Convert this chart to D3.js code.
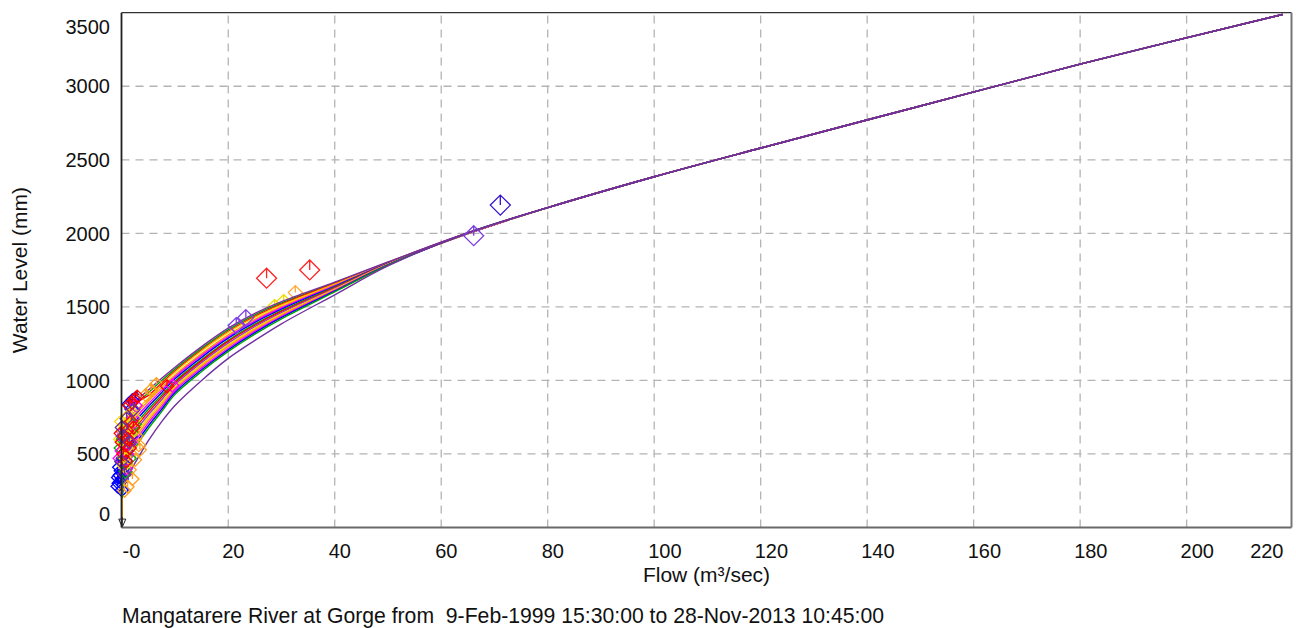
<!DOCTYPE html>
<html><head><meta charset="utf-8">
<script src="https://cdn.jsdelivr.net/npm/d3@7"></script>
<style>
html,body{margin:0;padding:0;background:#fff;}
svg text{font-family:"Liberation Sans",Arial,Helvetica,sans-serif;fill:#111;}
</style></head>
<body><svg id="c" width="1296" height="628"></svg>
<script>
// ---------- data ----------
const xTicks = [0, 20, 40, 60, 80, 100, 120, 140, 160, 180, 200, 220];
const xTickLabels = ["-0", "20", "40", "60", "80", "100", "120", "140", "160", "180", "200", "220"];
const yTicks = [0, 500, 1000, 1500, 2000, 2500, 3000, 3500];
const yTickLabels = ["0", "500", "1000", "1500", "2000", "2500", "3000", "3500"];
const xTitle = "Flow (m³/sec)";
const yTitle = "Water Level (mm)";
const caption = "Mangatarere River at Gorge from  9-Feb-1999 15:30:00 to 28-Nov-2013 10:45:00";

// rating curves: flows (m3/sec) at which each curve's level (mm) was read
const curveQ = [0, 0.5, 1.5, 3, 5, 7.5, 10, 15, 20, 25, 30, 40, 50, 65];
const tailQ = [80, 100, 120, 150, 180, 218];
const tailH = [2175, 2385, 2580, 2866, 3150, 3488];
const curveColors = ["#00a000", "#ff0000", "#ffd000", "#ff9900", "#ff00ff", "#0000ff", "#00a000", "#ff0000",
  "#9933cc", "#ffd000", "#ff9900", "#ff00ff", "#0000ff", "#00a000", "#7030a0", "#7b2d9e"];
const k1  = [null, 658, 782, 848, 916, 999, 1077, 1218, 1344, 1445, 1527, 1663, 1803, 2003];
const k2  = [null, null, 845, 860, 898, 983, 1064, 1206, 1332, 1435, 1518, 1659, 1802, 2002];
const k3  = [null, 614, 735, 805, 879, 970, 1056, 1200, 1326, 1428, 1512, 1654, 1800, 2001];
const k4  = [480, 592, 711, 784, 860, 950, 1037, 1182, 1310, 1415, 1502, 1649, 1799, 2000];
const k5  = [460, 570, 688, 762, 841, 934, 1024, 1170, 1298, 1405, 1494, 1644, 1797, 1999];
const k6  = [440, 548, 665, 741, 823, 918, 1011, 1157, 1287, 1395, 1485, 1640, 1796, 1998];
const k7  = [420, 526, 641, 719, 804, 900, 994, 1141, 1272, 1382, 1475, 1635, 1794, 1998];
const k8  = [400, 504, 618, 698, 785, 885, 984, 1133, 1265, 1375, 1469, 1630, 1793, 1998];
const k9  = [380, 482, 594, 676, 767, 869, 971, 1121, 1253, 1365, 1461, 1626, 1791, 1999];
const k10 = [360, 460, 571, 655, 748, 853, 958, 1109, 1242, 1355, 1452, 1621, 1790, 1999];
const k11 = [340, 438, 548, 633, 729, 837, 945, 1097, 1231, 1345, 1444, 1616, 1788, 2000];
const k12 = [320, 416, 524, 612, 711, 821, 932, 1085, 1219, 1335, 1436, 1612, 1787, 2001];
const k13 = [300, 394, 501, 590, 692, 804, 918, 1073, 1208, 1325, 1428, 1607, 1785, 2002];
const k14 = [280, 372, 477, 569, 673, 788, 905, 1061, 1197, 1315, 1419, 1602, 1784, 2003];
const kB  = [200, 280, 375, 470, 590, 720, 830, 1000, 1150, 1272, 1385, 1582, 1778, 2004];
const kT  = [null, 680, 805, 870, 935, 1015, 1090, 1230, 1355, 1455, 1535, 1668, 1805, 2004];
const curves = [k1, k2, k3, k4, k5, k6, k7, k8, k9, k10, k11, k12, k13, k14, kB, kT];

// vertical stem at zero flow (level mm)
const stemQ = [0, 0];
const stemH = [350, 30];

// gaugings: [flow, level]
const bigGaugings = [
  {color: "#7a3fe0", size: 10, pts: [[66.1, 1984]]},
  {color: "#3311cc", size: 10, pts: [[71.1, 2192]]},
  {color: "#ff2222", size: 10, pts: [[27.2, 1695], [35.3, 1751]]},
  {color: "#7b3fe4", size: 8, pts: [[23.3, 1427], [21.5, 1373]]}
];
const hiddenGaugings = [
  {color: "#eedd00", size: 7, pts: [[28.7, 1502], [30.4, 1536]]},
  {color: "#ffaa33", size: 7, pts: [[32.6, 1597]]}
];
const blueG    = [[-0.8,280],[-0.6,300],[-0.3,310],[0,330],[-0.7,340],[-0.4,355],[0.1,370],[-0.2,385],[0.3,400],[-0.5,410],[0.5,430],[0.0,445],[0.7,455],[0.2,470],[1.0,490],[0.5,510],[1.4,540],[1.0,580],[1.7,620],[1.3,840],[2.0,865],[2.6,880],[1.8,805],[0.0,255]];
const redG     = [[0.0,580],[0.5,620],[1.0,660],[0.3,500],[1.5,540],[1.9,850],[2.4,870],[0.8,450],[1.8,720],[-0.2,640],[8.5,960],[1.4,830],[2.9,890],[0.6,560],[1.2,600],[2.2,680]];
const yellowG  = [[0.2,660],[0.7,700],[1.2,760],[-0.3,600],[0.9,540],[1.6,640],[0.4,420],[2.0,780],[-0.1,720],[1.0,620],[2.5,740],[0.5,480],[1.4,700]];
const magentaG = [[0.0,520],[0.6,600],[1.3,680],[-0.4,470],[1.0,500],[2.0,740],[9.5,965],[0.3,650],[1.6,580],[2.6,830],[0.8,400]];
const greenG   = [[0.4,480],[1.1,560],[-0.2,540],[0.7,380],[1.8,650],[2.4,700],[0.2,600],[1.5,470],[0.9,690]];
const orangeG  = [[3.4,528],[1.5,392],[1.1,277],[2.5,460],[0.5,250],[6.5,975],[4.5,900],[2.8,620],[3.2,560],[2.0,330],[0.2,520],[5.5,935],[1.2,710]];
const purpleG  = [[0.2,620],[0.9,740],[-0.1,450],[1.4,580],[0.5,360],[2.2,800],[0.0,680]];
const clusterSets = [
  {color: "#0000ff", pts: blueG}, {color: "#ff9f1c", pts: orangeG}, {color: "#00b000", pts: greenG},
  {color: "#ff00ff", pts: magentaG}, {color: "#ffd700", pts: yellowG}, {color: "#ff0000", pts: redG},
  {color: "#7030a0", pts: purpleG}
];

// ---------- drawing ----------
const svg = d3.select("#c");
const L = 121.5, R = 1291.5, T = 12.7, B = 527.5;
const x = d3.scaleLinear().domain([-0.05, 219.7]).range([L, R]);
const y = d3.scaleLinear().domain([0, 3500]).range([B, T]);

// grid
const grid = svg.append("g").attr("stroke", "#b4b4b4").attr("stroke-width", 1.3).attr("stroke-dasharray", "8,6");
grid.selectAll("line.v").data(xTicks.filter(v => v > 0 && v < 210)).join("line")
  .attr("x1", d => x(d)).attr("x2", d => x(d)).attr("y1", B).attr("y2", T);
grid.selectAll("line.h").data(yTicks.filter(v => v > 0 && v < 3500)).join("line")
  .attr("x1", L).attr("x2", R).attr("y1", d => y(d)).attr("y2", d => y(d));

// diamond marker path (center + tick to top)
function diamond(cx, cy, s) {
  return `M${cx},${cy - s}L${cx + s},${cy}L${cx},${cy + s}L${cx - s},${cy}Z M${cx},${cy}L${cx},${cy - s}`;
}
function drawG(sets, size) {
  const g = svg.append("g").attr("fill", "none").attr("stroke-width", 1.3);
  sets.forEach(set => {
    g.selectAll(null).data(set.pts).join("path")
      .attr("stroke", set.color)
      .attr("d", d => diamond(x(d[0]), y(d[1]), set.size || size));
  });
}
drawG(hiddenGaugings, 7);

// curves
const line = d3.line().x(d => x(d[0])).y(d => y(d[1])).curve(d3.curveCatmullRom.alpha(0.5));
const cg = svg.append("g").attr("fill", "none").attr("stroke-width", 1.4);
curves.forEach((vals, i) => {
  const pts = curveQ.map((q, j) => [q, vals[j]]).filter(p => p[1] != null)
    .concat(tailQ.map((q, j) => [q, tailH[j]]));
  cg.append("path").attr("d", line(pts)).attr("stroke", curveColors[i]);
});

drawG(clusterSets, 6.5);
drawG(bigGaugings, 10);

// stem + arrow at zero flow
svg.append("line").attr("x1", x(stemQ[0]) + 0.5).attr("x2", x(stemQ[1]) + 0.5)
  .attr("y1", y(stemH[0])).attr("y2", y(stemH[1])).attr("stroke", "#ff9900").attr("stroke-width", 1.5);
svg.append("line").attr("x1", x(stemQ[0]) + 0.5).attr("x2", x(stemQ[1]) + 0.5)
  .attr("y1", y(stemH[0])).attr("y2", y(200)).attr("stroke", "#00a000").attr("stroke-width", 1.5);
const ax = x(stemQ[1]) + 0.5, ay = y(stemH[1]);
svg.append("path").attr("d", `M${ax - 3.5},${ay - 4}L${ax + 3.5},${ay - 4}L${ax},${ay + 4}Z M${ax},${ay - 6}L${ax},${ay + 4}`)
  .attr("fill", "#fff").attr("stroke", "#222").attr("stroke-width", 1);

// frame
svg.append("line").attr("x1", L).attr("x2", R).attr("y1", T).attr("y2", T).attr("stroke", "#333").attr("stroke-width", 1.3);
svg.append("line").attr("x1", R).attr("x2", R).attr("y1", T).attr("y2", B).attr("stroke", "#777").attr("stroke-width", 2);
svg.append("line").attr("x1", L).attr("x2", R).attr("y1", B).attr("y2", B).attr("stroke", "#6a6a6a").attr("stroke-width", 2);
svg.append("line").attr("x1", L).attr("x2", L).attr("y1", T).attr("y2", B).attr("stroke", "#222").attr("stroke-width", 1.8);

// x tick labels
svg.append("g").selectAll("text").data(xTicks).join("text")
  .attr("font-size", 20)
  .attr("x", (d, i) => i === 0 ? L + 1 : (i === xTicks.length - 1 ? R - 8 : x(d) - 6))
  .attr("text-anchor", (d, i) => i === xTicks.length - 1 ? "end" : "start")
  .attr("y", 558)
  .text((d, i) => xTickLabels[i]);

// y tick labels
svg.append("g").selectAll("text").data(yTicks).join("text")
  .attr("font-size", 20).attr("text-anchor", "end").attr("x", 110)
  .attr("y", (d, i) => i === 0 ? y(d) - 13.5 + 7.2 : (i === yTicks.length - 1 ? y(d) + 13.7 + 7.2 : y(d) + 7.2))
  .text((d, i) => yTickLabels[i]);

// titles
svg.append("text").attr("font-size", 21).attr("text-anchor", "middle")
  .attr("x", (L + R) / 2).attr("y", 582).text(xTitle);
svg.append("text").attr("font-size", 21).attr("text-anchor", "middle")
  .attr("transform", `translate(26.5,${(T + B) / 2}) rotate(-90)`).text(yTitle);
svg.append("text").attr("font-size", 21.2).attr("x", 122).attr("y", 623)
  .style("white-space", "pre").text(caption);
</script></body></html>
